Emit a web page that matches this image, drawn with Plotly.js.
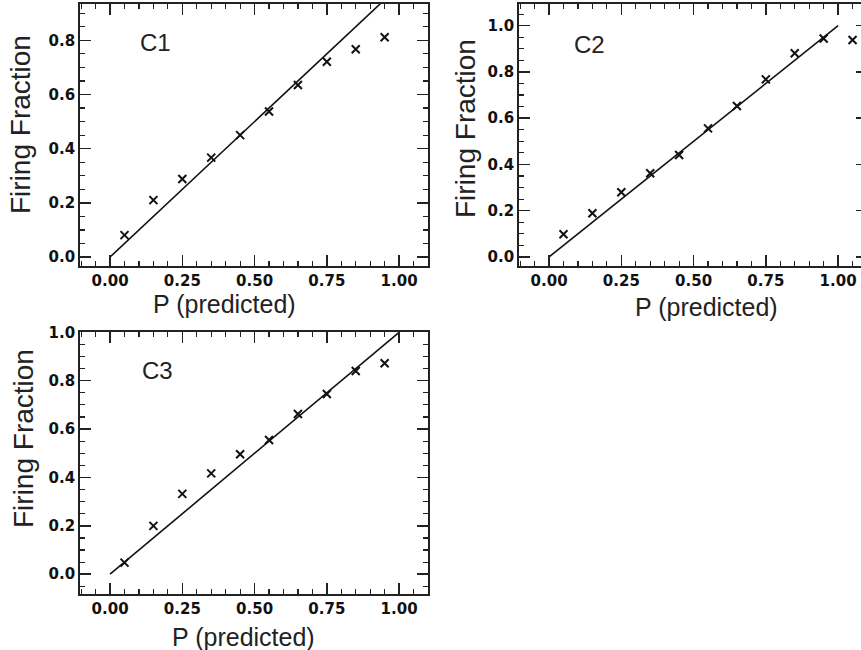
<!DOCTYPE html>
<html>
<head>
<meta charset="utf-8">
<script src="https://cdn.plot.ly/plotly-3.0.1.min.js"></script>
<style>
html,body{margin:0;padding:0;overflow:hidden;background:#fff;}
#chart{width:870px;height:650px;}
</style>
</head>
<body>
<div id="chart"></div>
<script>
// Data
const pC1 = [0.05,0.15,0.25,0.35,0.45,0.55,0.65,0.75,0.85,0.95];
const fC1 = [0.081,0.210,0.288,0.367,0.450,0.537,0.635,0.721,0.767,0.811];
const pC2 = [0.05,0.15,0.25,0.35,0.45,0.55,0.65,0.75,0.85,0.95,1.05];
const fC2 = [0.098,0.189,0.280,0.362,0.441,0.556,0.653,0.768,0.881,0.945,0.938];
const pC3 = [0.05,0.15,0.25,0.35,0.45,0.55,0.65,0.75,0.85,0.95];
const fC3 = [0.048,0.200,0.332,0.417,0.496,0.555,0.662,0.745,0.840,0.872];
const lineX = [0, 1];
const lineY = [0, 1];
const xTickVals = [0, 0.25, 0.5, 0.75, 1.0];
const xTickText = ["0.00","0.25","0.50","0.75","1.00"];
const yTickVals = [0, 0.2, 0.4, 0.6, 0.8, 1.0];
const yTickText = ["0.0","0.2","0.4","0.6","0.8","1.0"];
const panelLabels = ["C1","C2","C3"];
const xTitle = "P (predicted)";
const yTitle = "Firing Fraction";

const W = 870, H = 650;
const fx = v => v / W;
const fy = v => 1 - v / H;

const markerStyle = {symbol:'x-thin-open', size:8, color:'#111', line:{width:2, color:'#111'}};
const lineStyle = {color:'#111', width:1.6};

function pts(x, y, ax) {
  return {x:x, y:y, xaxis:'x'+ax, yaxis:'y'+ax, mode:'markers', type:'scatter',
          marker:markerStyle, hoverinfo:'skip', showlegend:false, cliponaxis:false};
}
function ln(ax) {
  return {x:lineX, y:lineY, xaxis:'x'+ax, yaxis:'y'+ax, mode:'lines', type:'scatter',
          line:lineStyle, hoverinfo:'skip', showlegend:false};
}

const data = [ln(''), pts(pC1,fC1,''), ln('2'), pts(pC2,fC2,'2'), ln('3'), pts(pC3,fC3,'3')];

const tickFont = {family:'"DejaVu Sans", sans-serif', size:15, color:'#111', weight:'bold'};
function xax(d, anchor) {
  return {domain:d, anchor:anchor, range:[-0.104, 1.1], tickmode:'array', tickvals:xTickVals,
          ticktext:xTickText, ticks:'inside', ticklen:11, tickwidth:1.5, tickcolor:'#222',
          showline:true, linewidth:1.8, linecolor:'#222', mirror:'allticks', showgrid:false,
          zeroline:false, tickfont:tickFont,
          minor:{dtick:0.05, tick0:0, ticks:'inside', ticklen:5, tickwidth:1.2, tickcolor:'#222', showgrid:false}};
}
function yax(d, anchor, r) {
  return {domain:d, anchor:anchor, range:r, tickmode:'array', tickvals:yTickVals,
          ticktext:yTickText, ticks:'inside', ticklen:11, tickwidth:1.5, tickcolor:'#222',
          showline:true, linewidth:1.8, linecolor:'#222', mirror:'allticks', showgrid:false,
          zeroline:false, tickfont:tickFont,
          minor:{dtick:0.05, tick0:0, ticks:'inside', ticklen:5, tickwidth:1.2, tickcolor:'#222', showgrid:false}};
}

const d1x = [fx(80), fx(428)], dTopY = [fy(265.7), fy(4)];
const d2x = [fx(519), fx(867)];
const d3y = [fy(594.3), fy(331.7)];

const titleFontX = {family:'"Liberation Sans", Arial, sans-serif', size:25, color:'#222'};
const titleFontY = {family:'"Liberation Sans", Arial, sans-serif', size:28, color:'#222'};
const labFont = {family:'"Liberation Sans", Arial, sans-serif', size:24, color:'#222'};

function ann(text, x, y, font, rot) {
  return {text:text, x:fx(x), y:fy(y), xref:'paper', yref:'paper', showarrow:false,
          xanchor:'center', yanchor:'middle', font:font, textangle:rot||0};
}

const layout = {
  width:W, height:H, margin:{l:0,r:0,t:0,b:0}, paper_bgcolor:'#fff', plot_bgcolor:'#fff',
  showlegend:false,
  xaxis:xax(d1x,'y'), yaxis:yax(dTopY,'x',[-0.032,0.934]),
  xaxis2:xax(d2x,'y2'), yaxis2:yax(dTopY,'x2',[-0.038,1.094]),
  xaxis3:xax(d1x,'y3'), yaxis3:yax(d3y,'x3',[-0.083,1.0025]),
  annotations:[
    ann(panelLabels[0], 155, 42, labFont),
    ann(panelLabels[1], 589, 45, labFont),
    ann(panelLabels[2], 157, 370, labFont),
    ann(xTitle, 224, 304, titleFontX),
    ann(xTitle, 706, 307, titleFontX),
    ann(xTitle, 243, 637, titleFontX),
    ann(yTitle, 21, 125, titleFontY, -90),
    ann(yTitle, 465, 128, titleFontY, -90),
    ann(yTitle, 23, 439, titleFontY, -90)
  ]
};

Plotly.newPlot('chart', data, layout, {displayModeBar:false, staticPlot:true});
</script>
</body>
</html>
